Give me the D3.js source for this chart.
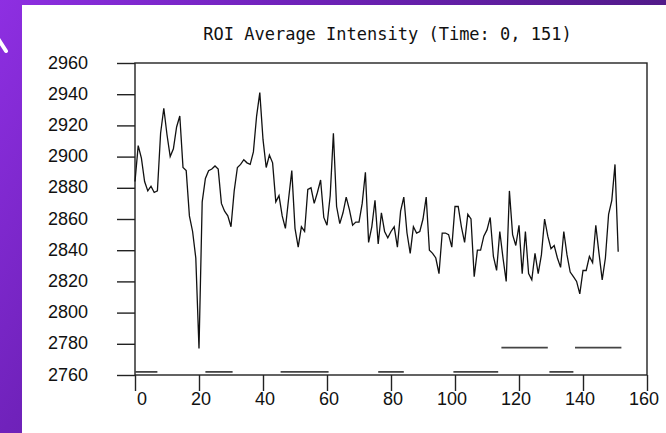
<!DOCTYPE html>
<html>
<head>
<meta charset="utf-8">
<script src="https://cdn.jsdelivr.net/npm/d3@7"></script>
<style>
  html, body { margin: 0; padding: 0; }
  body { width: 666px; height: 433px; overflow: hidden; }
  svg { display: block; }
</style>
</head>
<body>
<svg width="666" height="433"></svg>
<script>
// ROI average intensity, one value per time point (0..151)
var intensity = [
  2884, 2907, 2899, 2884, 2878, 2881, 2877, 2878, 2915, 2931,
  2914, 2900, 2905, 2919, 2926, 2893, 2891, 2862, 2852, 2835,
  2777, 2871, 2886, 2891, 2892, 2894, 2892, 2870, 2865, 2862,
  2855, 2878, 2893, 2895, 2898, 2896, 2895, 2903, 2926, 2941,
  2911, 2893, 2901, 2896, 2871, 2875, 2862, 2854, 2873, 2891,
  2854, 2842, 2855, 2852, 2879, 2880, 2870, 2877, 2885, 2861,
  2856, 2875, 2915, 2868, 2857, 2864, 2874, 2866, 2856, 2858,
  2858, 2870, 2890, 2845, 2855, 2872, 2844, 2864, 2852, 2848,
  2852, 2855, 2842, 2865, 2874, 2851, 2838, 2855, 2851, 2852,
  2860, 2874, 2840, 2838, 2835, 2825, 2851, 2851, 2850, 2842,
  2868, 2868, 2855, 2845, 2863, 2860, 2823, 2840, 2840, 2849,
  2853, 2861, 2836, 2827, 2852, 2835, 2820, 2878, 2850, 2843,
  2856, 2825, 2852, 2825, 2821, 2838, 2825, 2837, 2860, 2849,
  2841, 2843, 2835, 2829, 2852, 2837, 2826, 2823, 2820, 2812,
  2827, 2827, 2836, 2832, 2856, 2838, 2821, 2835, 2863, 2872,
  2895, 2839
];

// event bars along the bottom: start time, end time, level
var barStart = [0, 22, 45.5, 76, 99.5, 129.5, 114.5, 137.5];
var barEnd   = [7, 30.5, 60.5, 84, 113.5, 137, 129, 152];
var barLevel = [2762, 2762, 2762, 2762, 2762, 2762, 2777.5, 2777.5];

var xTicks = [0, 20, 40, 60, 80, 100, 120, 140, 160];
var yTicks = [2760, 2780, 2800, 2820, 2840, 2860, 2880, 2900, 2920, 2940, 2960];
var title = "ROI Average Intensity (Time: 0, 151)";

var svg = d3.select("svg");

// purple backdrop + white panel
var defs = svg.append("defs");
var grad = defs.append("linearGradient")
    .attr("id", "bg")
    .attr("gradientUnits", "userSpaceOnUse")
    .attr("x1", 0).attr("y1", 0).attr("x2", 666).attr("y2", 433);
grad.append("stop").attr("offset", 0).attr("stop-color", "#8e2fe2");
grad.append("stop").attr("offset", 0.3).attr("stop-color", "#7022bb");
grad.append("stop").attr("offset", 0.7).attr("stop-color", "#521a8a");
grad.append("stop").attr("offset", 1).attr("stop-color", "#401470");

svg.append("rect").attr("width", 666).attr("height", 433).attr("fill", "url(#bg)");
svg.append("line")
    .attr("x1", -3).attr("y1", 37).attr("x2", 6).attr("y2", 51)
    .attr("stroke", "#fff").attr("stroke-width", 4).attr("stroke-linecap", "round");
svg.append("rect").attr("x", 22).attr("y", 5).attr("width", 644).attr("height", 428).attr("fill", "#fff");

var x = d3.scaleLinear().domain([0, 160]).range([135, 647]),
    y = d3.scaleLinear().domain([2760, 2960]).range([375, 63]);

var fontTicks = "'Liberation Sans', Arial, sans-serif";

// frame
svg.append("rect")
    .attr("x", x(0)).attr("y", y(2960))
    .attr("width", x(160) - x(0)).attr("height", y(2760) - y(2960))
    .attr("fill", "none").attr("stroke", "#222").attr("stroke-width", 1.4);

var yAxis = svg.append("g")
    .attr("transform", "translate(" + x(0) + ",0)")
    .call(d3.axisLeft(y).tickValues(yTicks).tickSize(18).tickPadding(29).tickFormat(d3.format("d")));

var xAxis = svg.append("g")
    .attr("transform", "translate(0," + y(2760) + ")")
    .call(d3.axisBottom(x).tickValues(xTicks).tickSize(16).tickFormat(d3.format("d")));

yAxis.select(".domain").remove();
xAxis.select(".domain").remove();

svg.selectAll(".tick line").attr("stroke", "#222").attr("stroke-width", 1.4);
svg.selectAll(".tick text")
    .attr("fill", "#111")
    .style("font-family", fontTicks)
    .style("font-size", "18px");

yAxis.selectAll(".tick text").attr("dy", "0.28em");
xAxis.selectAll(".tick text")
    .attr("text-anchor", "end")
    .attr("x", 11.5)
    .attr("y", 30)
    .attr("dy", null);

// event bars
svg.append("g").selectAll("line")
    .data(barStart)
    .enter().append("line")
      .attr("x1", function(d) { return x(d); })
      .attr("x2", function(d, i) { return x(barEnd[i]); })
      .attr("y1", function(d, i) { return y(barLevel[i]); })
      .attr("y2", function(d, i) { return y(barLevel[i]); })
      .attr("stroke", "#444")
      .attr("stroke-width", 1.8);

// intensity trace
var line = d3.line()
    .x(function(d, i) { return x(i); })
    .y(function(d) { return y(d); });

svg.append("path")
    .datum(intensity)
    .attr("d", line)
    .attr("fill", "none")
    .attr("stroke", "#111")
    .attr("stroke-width", 1.3)
    .attr("stroke-linejoin", "miter");

svg.append("text")
    .attr("x", 387.5)
    .attr("y", 40)
    .attr("text-anchor", "middle")
    .style("font-family", "'DejaVu Sans Mono', monospace")
    .style("font-size", "17px")
    .attr("fill", "#111")
    .text(title);
</script>
</body>
</html>
